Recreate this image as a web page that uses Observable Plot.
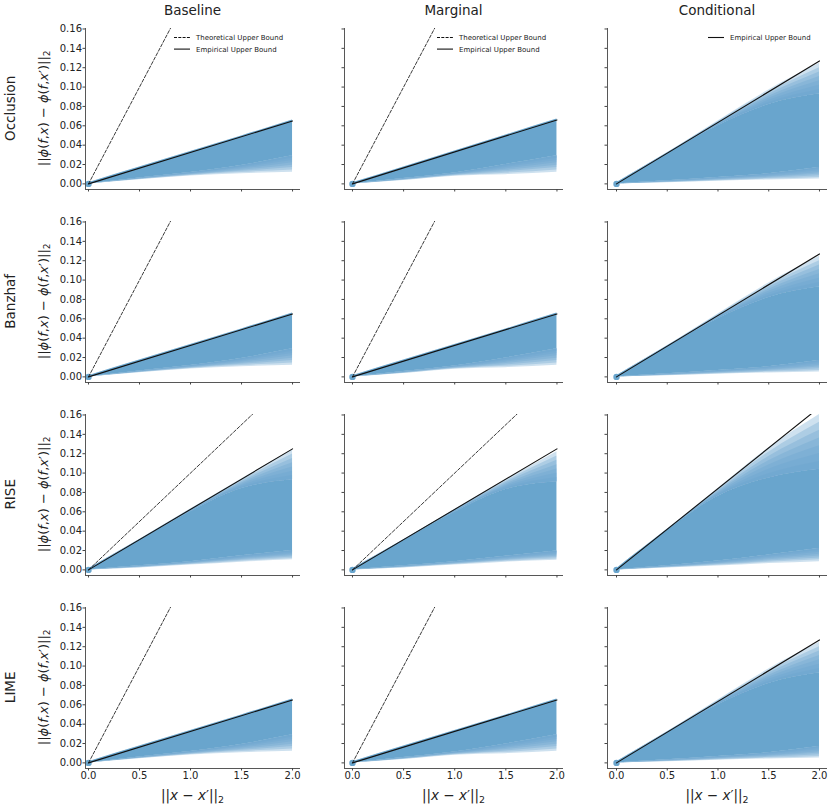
<!DOCTYPE html>
<html>
<head>
<meta charset="utf-8">
<script src="https://cdn.jsdelivr.net/npm/d3@7"></script>
<script src="https://cdn.jsdelivr.net/npm/@observablehq/plot@0.6"></script>
<style>
  html, body { margin: 0; padding: 0; background: #fff; }
  #fig { position: relative; width: 831px; height: 808px; background: #fff; font-family: "DejaVu Sans", sans-serif; }
  #fig > figure, #fig > svg { position: absolute; margin: 0; }
</style>
</head>
<body>
<div id="fig"></div>
<script>
// ---------------- data ----------------
const methods = ["Occlusion", "Banzhaf", "RISE", "LIME"];
const baselines = ["Baseline", "Marginal", "Conditional"];
const gridX = [0, 0.5, 1.0, 1.5, 2.0];
const xTicks = [0, 0.5, 1.0, 1.5, 2.0];
const yTicks = [0, 0.02, 0.04, 0.06, 0.08, 0.10, 0.12, 0.14, 0.16];
const boundOrigin = [0, 0];

// empirical upper bound value at x = 2.0, [method][baseline]
const empiricalAt2 = [
  [0.065, 0.066, 0.127],
  [0.065, 0.065, 0.127],
  [0.125, 0.125, 0.168],
  [0.065, 0.065, 0.127]
];
// theoretical upper bound value at x = 2.0 (null = not drawn)
const theoreticalAt2 = [
  [0.40, 0.40, null],
  [0.40, 0.40, null],
  [0.20, 0.20, null],
  [0.40, 0.40, null]
];

// envelope of the point cloud at gridX, [method][baseline][i]
// faint top = highest (faded) points, solid top = where the cloud becomes dense
const cloudTopFaint = [
  [[0.0012, 0.0175, 0.0335, 0.0495, 0.0660], [0.0012, 0.0175, 0.0340, 0.0505, 0.0670], [0.0012, 0.0322, 0.0650, 0.0970, 0.1245]],
  [[0.0012, 0.0175, 0.0335, 0.0495, 0.0660], [0.0012, 0.0175, 0.0335, 0.0495, 0.0660], [0.0012, 0.0322, 0.0650, 0.0970, 0.1245]],
  [[0.0012, 0.0315, 0.0630, 0.0940, 0.1240], [0.0012, 0.0312, 0.0625, 0.0930, 0.1220], [0.0012, 0.0420, 0.0840, 0.1260, 0.1605]],
  [[0.0012, 0.0175, 0.0335, 0.0495, 0.0660], [0.0012, 0.0175, 0.0335, 0.0495, 0.0660], [0.0012, 0.0322, 0.0650, 0.0970, 0.1245]]
];
const cloudTopSolid = [
  [[0.0012, 0.0175, 0.0335, 0.0495, 0.0660], [0.0012, 0.0175, 0.0340, 0.0505, 0.0670], [0.0012, 0.0312, 0.0600, 0.0820, 0.0930]],
  [[0.0012, 0.0175, 0.0335, 0.0495, 0.0660], [0.0012, 0.0175, 0.0335, 0.0495, 0.0660], [0.0012, 0.0312, 0.0600, 0.0820, 0.0930]],
  [[0.0012, 0.0305, 0.0600, 0.0840, 0.0930], [0.0012, 0.0302, 0.0595, 0.0830, 0.0910], [0.0012, 0.0410, 0.0760, 0.0950, 0.1040]],
  [[0.0012, 0.0175, 0.0335, 0.0495, 0.0660], [0.0012, 0.0175, 0.0335, 0.0495, 0.0660], [0.0012, 0.0312, 0.0600, 0.0820, 0.0930]]
];
const cloudLowSolid = [
  [[0, 0.0062, 0.0118, 0.0190, 0.0290], [0, 0.0055, 0.0112, 0.0200, 0.0290], [0, 0.0032, 0.0065, 0.0105, 0.0170]],
  [[0, 0.0062, 0.0118, 0.0190, 0.0290], [0, 0.0055, 0.0112, 0.0195, 0.0290], [0, 0.0032, 0.0065, 0.0105, 0.0170]],
  [[0, 0.0042, 0.0085, 0.0145, 0.0200], [0, 0.0042, 0.0085, 0.0140, 0.0195], [0, 0.0042, 0.0092, 0.0155, 0.0220]],
  [[0, 0.0062, 0.0118, 0.0190, 0.0290], [0, 0.0055, 0.0112, 0.0195, 0.0290], [0, 0.0032, 0.0065, 0.0105, 0.0170]]
];
const cloudLowFaint = [
  [[0, 0.0042, 0.0082, 0.0105, 0.0120], [0, 0.0035, 0.0080, 0.0095, 0.0120], [0, 0.0012, 0.0028, 0.0040, 0.0050]],
  [[0, 0.0042, 0.0082, 0.0105, 0.0120], [0, 0.0035, 0.0080, 0.0095, 0.0120], [0, 0.0012, 0.0028, 0.0040, 0.0050]],
  [[0, 0.0020, 0.0050, 0.0080, 0.0105], [0, 0.0020, 0.0050, 0.0080, 0.0100], [0, 0.0020, 0.0040, 0.0065, 0.0085]],
  [[0, 0.0042, 0.0082, 0.0105, 0.0120], [0, 0.0035, 0.0080, 0.0095, 0.0120], [0, 0.0012, 0.0028, 0.0040, 0.0050]]
];

// ---------------- layout & style ----------------
const BLUE = "#69a5cd";
const INK = "#222";
const colSpineL = [85, 344, 607];
const colSpineR = [300, 563, 827];
const rowTop = [27.8, 220.8, 413.8, 606.8];
const frameH = 161;
const xDomains = [[-0.0294, 2.078], [-0.078, 2.064], [-0.0887, 2.079]];
const yDomain = [-0.0058, 0.1605];
const mL = 40, mR = 6, mT = 4, mB = 24;
const FADE_STEPS = 7, FADE_ALPHA = 0.33;

const fig = document.getElementById("fig");

// a faded band drawn as a stack of translucent layers (dense at `from`, sparse at `to`)
function fadeBand(cloud, from, to) {
  const layers = [];
  for (let k = 1; k <= FADE_STEPS; k++) {
    const f = k / FADE_STEPS;
    layers.push(Plot.areaY(cloud, {
      x: "x", y1: from, y2: d => d[from] + (d[to] - d[from]) * f,
      fill: BLUE, fillOpacity: FADE_ALPHA, curve: "monotone-x", clip: true
    }));
  }
  return layers;
}

function panel(r, c) {
  const cloud = gridX.map((x, i) => ({
    x,
    lf: cloudLowFaint[r][c][i],
    ls: cloudLowSolid[r][c][i],
    ts: cloudTopSolid[r][c][i],
    tf: cloudTopFaint[r][c][i]
  }));
  const emp = [{x: boundOrigin[0], y: boundOrigin[1]}, {x: gridX[gridX.length - 1], y: empiricalAt2[r][c]}];
  const marks = [
    ...fadeBand(cloud, "ls", "lf"),
    Plot.areaY(cloud, {x: "x", y1: "ls", y2: "ts", fill: BLUE, curve: "monotone-x"}),
    ...fadeBand(cloud, "ts", "tf"),
    Plot.dot(cloud.slice(0, 1), {x: "x", y: "ls", r: 3.2, fill: BLUE})
  ];
  if (theoreticalAt2[r][c] != null) {
    const theo = [{x: boundOrigin[0], y: boundOrigin[1]}, {x: gridX[gridX.length - 1], y: theoreticalAt2[r][c]}];
    marks.push(Plot.line(theo, {x: "x", y: "y", stroke: INK, strokeWidth: 0.9, strokeDasharray: "3.2,1.8", clip: true}));
  }
  marks.push(Plot.line(emp, {x: "x", y: "y", stroke: "#111", strokeWidth: 1.1, clip: true}));
  marks.push(Plot.axisX({ticks: xTicks, tickSize: 2.5, tickPadding: 1, stroke: "#444",
    tickFormat: r === methods.length - 1 ? (d => d.toFixed(1)) : (() => ""), label: null}));
  marks.push(Plot.axisY({ticks: yTicks, tickSize: 2.5, tickPadding: 1, stroke: "#444",
    tickFormat: c === 0 ? (d => d.toFixed(2)) : (() => ""), label: null}));
  marks.push(Plot.ruleX([xDomains[c][0]], {stroke: "#444", strokeWidth: 0.9}));
  marks.push(Plot.ruleY([yDomain[0]], {stroke: "#444", strokeWidth: 0.9}));

  const w = colSpineR[c] - colSpineL[c];
  const p = Plot.plot({
    width: w + mL + mR,
    height: frameH + mT + mB,
    marginLeft: mL, marginRight: mR, marginTop: mT, marginBottom: mB,
    x: {domain: xDomains[c]},
    y: {domain: yDomain},
    style: {fontFamily: "DejaVu Sans", fontSize: "10px", color: INK, background: "none", overflow: "visible"},
    marks
  });
  p.style.left = (colSpineL[c] - mL) + "px";
  p.style.top = (rowTop[r] - mT) + "px";
  fig.appendChild(p);
}

methods.forEach((m, r) => baselines.forEach((b, c) => panel(r, c)));

// ---------------- overlay texts: titles, labels, legends ----------------
const ov = d3.select(fig).append("svg")
  .attr("width", 831).attr("height", 808)
  .style("left", "0px").style("top", "0px")
  .style("pointer-events", "none")
  .attr("font-family", "DejaVu Sans").attr("fill", INK);

function mathText(g, parts, size) {
  const t = g.append("text").attr("font-size", size).attr("text-anchor", "middle");
  parts.forEach(([s, kind]) => {
    const ts = t.append("tspan").text(s);
    if (kind === "i") ts.attr("font-style", "italic");
    if (kind === "sub") ts.attr("font-size", size * 0.7).attr("dy", size * 0.22);
  });
  return t;
}

const yLabelParts = [["||"], ["ϕ", "i"], ["("], ["f", "i"], [","], ["x", "i"], [")"], [" − "],
  ["ϕ", "i"], ["("], ["f", "i"], [","], ["x", "i"], ["′"], [")"], ["||"], ["2", "sub"]];
const xLabelParts = [["||"], ["x", "i"], [" − "], ["x", "i"], ["′"], ["||"], ["2", "sub"]];

baselines.forEach((b, c) => {
  const cx = (colSpineL[c] + colSpineR[c]) / 2;
  ov.append("text").attr("x", cx).attr("y", 15).attr("text-anchor", "middle")
    .attr("font-size", 13.5).text(b);
  const g = ov.append("g").attr("transform", `translate(${cx},800)`);
  mathText(g, xLabelParts, 13.5);
});

methods.forEach((m, r) => {
  const cy = rowTop[r] + frameH / 2;
  ov.append("text").attr("transform", `translate(15,${cy}) rotate(-90)`)
    .attr("text-anchor", "middle").attr("font-size", 13.5).text(m);
  const g = ov.append("g").attr("transform", `translate(47.5,${cy}) rotate(-90)`);
  mathText(g, yLabelParts, 13);
});

// legends in the first row
const legendItems = [
  {label: "Theoretical Upper Bound", dash: "3,1.3"},
  {label: "Empirical Upper Bound", dash: null}
];
baselines.forEach((b, c) => {
  const items = theoreticalAt2[0][c] != null ? legendItems : legendItems.slice(1);
  const textX = c === 2 ? colSpineR[c] - 97 : colSpineR[c] - 104;
  items.forEach((it, k) => {
    const y = 37.5 + k * 11.6;
    ov.append("line").attr("x1", textX - 22).attr("x2", textX - 6).attr("y1", y).attr("y2", y)
      .attr("stroke", "#111").attr("stroke-width", 1.1)
      .attr("stroke-dasharray", it.dash);
    ov.append("text").attr("x", textX).attr("y", y + 2.5).attr("font-size", 7).text(it.label);
  });
});
</script>
</body>
</html>
